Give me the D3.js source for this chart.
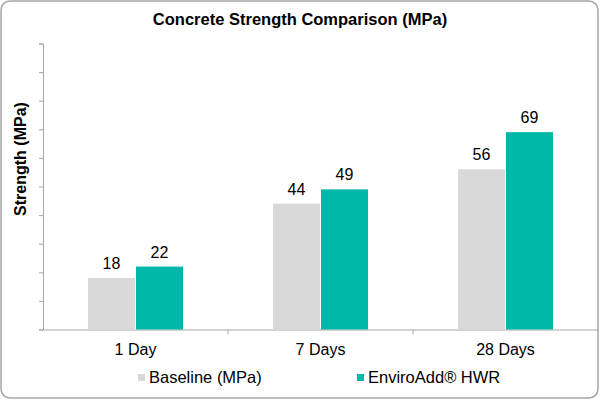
<!DOCTYPE html>
<html><head><meta charset="utf-8">
<script src="https://cdn.jsdelivr.net/npm/d3@7"></script>
<style>body{margin:0;background:#fff}svg{display:block;font-family:"Liberation Sans",Arial,sans-serif}</style>
</head><body>
<svg id="c" width="600" height="400"></svg>
<script>
const categories = ["1 Day", "7 Days", "28 Days"];
const seriesNames = ["Baseline (MPa)", "EnviroAdd® HWR"];
const baseline = [18, 44, 56];
const enviroAdd = [22, 49, 69];
const yTicks = [0,10,20,30,40,50,60,70,80,90,100];
const colors = ["#d9d9d9", "#00b8a9"];

const svg = d3.select("#c");
svg.append("rect").attr("x",1).attr("y",1).attr("width",597).attr("height",397)
  .attr("rx",9).attr("fill","#fff").attr("stroke","#a6a6a6").attr("stroke-width",1.5);

const m = {l:43, r:598, t:43.5, b:329.5};
const x0 = d3.scaleBand().domain(categories).range([m.l, m.r]);
const x1 = d3.scaleBand().domain(seriesNames).range([0, 95]).paddingInner(0.02);
const y = d3.scaleLinear().domain([0,100]).range([m.b, m.t]);

svg.append("text").attr("x",300).attr("y",25).attr("text-anchor","middle")
  .attr("font-size",16.5).attr("font-weight","bold").text("Concrete Strength Comparison (MPa)");

svg.append("text").attr("transform","translate(26,159) rotate(-90)").attr("text-anchor","middle")
  .attr("font-size",16).attr("font-weight","bold").text("Strength (MPa)");

const yAx = svg.append("g").attr("transform",`translate(${m.l},0)`)
  .call(d3.axisLeft(y).tickValues(yTicks).tickSize(4).tickSizeOuter(4).tickFormat(""));
yAx.selectAll("path,line").attr("stroke","#a6a6a6");

const xAx = svg.append("g").attr("transform",`translate(0,${m.b})`)
  .call(d3.axisBottom(x0).tickSize(0).tickSizeOuter(0));
xAx.select("path").attr("stroke","#a6a6a6");
xAx.selectAll("text").attr("font-size",16).attr("fill","#000").attr("dy","1.4em").attr("font-family","Liberation Sans, Arial, sans-serif");
svg.append("g").selectAll("line").data(categories.slice(1)).join("line")
  .attr("x1",d=>x0(d)).attr("x2",d=>x0(d)).attr("y1",m.b).attr("y2",m.b+5).attr("stroke","#a6a6a6");

const rows = categories.map((c,i)=>({c, vals:[baseline[i], enviroAdd[i]]}));
const g = svg.append("g").selectAll("g").data(rows).join("g")
  .attr("transform",d=>`translate(${x0(d.c)+x0.bandwidth()/2-47.5},0)`);
g.selectAll("rect").data(d=>d.vals.map((v,j)=>({v,s:seriesNames[j],j}))).join("rect")
  .attr("x",d=>x1(d.s)).attr("width",x1.bandwidth())
  .attr("y",d=>y(d.v)).attr("height",d=>y(0)-y(d.v)).attr("fill",d=>colors[d.j]);
g.selectAll("text").data(d=>d.vals.map((v,j)=>({v,s:seriesNames[j]}))).join("text")
  .attr("x",d=>x1(d.s)+x1.bandwidth()/2).attr("y",d=>y(d.v)-9).attr("text-anchor","middle")
  .attr("font-size",16).attr("fill","#000").text(d=>d.v);

const leg = svg.append("g");
const legX = [138, 357];
seriesNames.forEach((s,i)=>{
  leg.append("rect").attr("x",legX[i]).attr("y",374).attr("width",7).attr("height",7).attr("fill",colors[i]);
  leg.append("text").attr("x",legX[i]+11).attr("y",383).attr("font-size",16.5).attr("fill","#000").text(s);
});
</script>
</body></html>
